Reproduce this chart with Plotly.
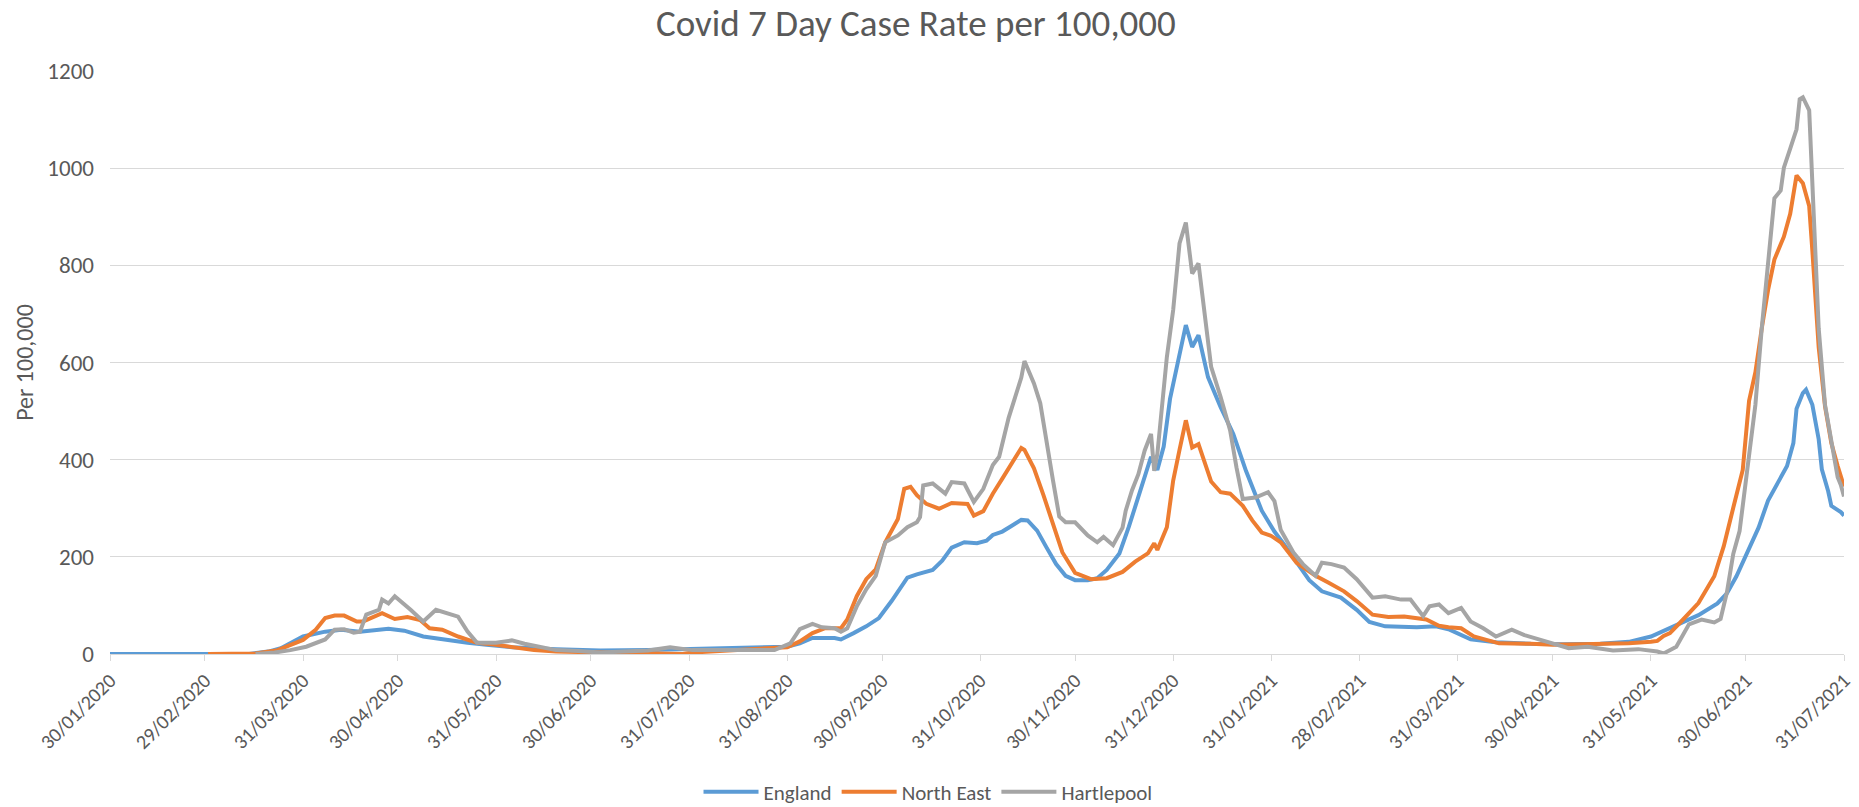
import plotly.graph_objects as go
import pandas as pd

# Values (7 day case rate per 100,000)
england_dates = [
    "2020-01-30", "2020-03-14", "2020-03-20", "2020-03-24", "2020-03-31", "2020-04-07",
    "2020-04-12", "2020-04-18", "2020-04-27", "2020-05-02", "2020-05-08", "2020-05-15",
    "2020-05-22", "2020-05-28", "2020-06-05", "2020-06-19", "2020-07-03", "2020-07-18",
    "2020-08-04", "2020-08-15", "2020-08-26", "2020-08-31", "2020-09-04", "2020-09-08",
    "2020-09-15", "2020-09-17", "2020-09-21", "2020-09-25", "2020-09-29", "2020-10-03",
    "2020-10-08", "2020-10-11", "2020-10-16", "2020-10-19", "2020-10-22", "2020-10-26",
    "2020-10-30", "2020-11-02", "2020-11-04", "2020-11-07", "2020-11-10", "2020-11-13",
    "2020-11-15", "2020-11-18", "2020-11-21", "2020-11-24", "2020-11-27", "2020-11-30",
    "2020-12-04", "2020-12-07", "2020-12-10", "2020-12-14", "2020-12-17", "2020-12-20",
    "2020-12-24", "2020-12-26", "2020-12-28", "2020-12-30", "2021-01-02", "2021-01-04",
    "2021-01-06", "2021-01-08", "2021-01-11", "2021-01-15", "2021-01-19", "2021-01-23",
    "2021-01-28", "2021-02-01", "2021-02-04", "2021-02-08", "2021-02-12", "2021-02-16",
    "2021-02-22", "2021-02-27", "2021-03-03", "2021-03-08", "2021-03-18", "2021-03-24",
    "2021-03-28", "2021-04-04", "2021-04-12", "2021-04-23", "2021-05-03", "2021-05-15",
    "2021-05-24", "2021-05-31", "2021-06-04", "2021-06-09", "2021-06-15", "2021-06-21",
    "2021-06-24", "2021-06-27", "2021-07-01", "2021-07-04", "2021-07-07", "2021-07-10",
    "2021-07-13", "2021-07-15", "2021-07-16", "2021-07-18", "2021-07-19", "2021-07-21",
    "2021-07-23", "2021-07-24", "2021-07-26", "2021-07-27", "2021-07-30", "2021-07-31",
]
england_values = [
    0, 0, 5, 12, 36, 46,
    50, 46, 52, 48, 36, 29,
    23, 19, 14, 10, 7, 8,
    10, 13, 13, 15, 22, 33,
    33, 30, 43, 57, 74, 109,
    157, 164, 173, 192, 219, 230,
    228, 233, 245, 252, 264, 276,
    275, 254, 219, 185, 161, 152,
    152, 156, 173, 207, 262, 324,
    406, 379, 427, 525, 618, 677,
    632, 656, 570, 508, 453, 377,
    295, 252, 226, 188, 152, 129,
    116, 91, 66, 57, 55, 57,
    51, 30, 24, 21, 20, 21,
    25, 36, 48, 64, 80, 104,
    125, 160, 215, 260, 316, 352,
    387, 434, 505, 537, 544, 513,
    442, 380, 335, 305, 292, 285,
]

north_east_dates = [
    "2020-03-01", "2020-03-16", "2020-03-23", "2020-03-31", "2020-04-04", "2020-04-07",
    "2020-04-10", "2020-04-13", "2020-04-17", "2020-04-19", "2020-04-25", "2020-04-29",
    "2020-05-03", "2020-05-07", "2020-05-10", "2020-05-14", "2020-05-19", "2020-05-25",
    "2020-05-31", "2020-06-05", "2020-06-12", "2020-06-19", "2020-07-03", "2020-07-17",
    "2020-07-29", "2020-08-01", "2020-08-15", "2020-08-27", "2020-08-31", "2020-09-04",
    "2020-09-08", "2020-09-12", "2020-09-17", "2020-09-19", "2020-09-22", "2020-09-25",
    "2020-09-28", "2020-10-01", "2020-10-05", "2020-10-07", "2020-10-09", "2020-10-11",
    "2020-10-14", "2020-10-18", "2020-10-22", "2020-10-27", "2020-10-29", "2020-11-01",
    "2020-11-04", "2020-11-07", "2020-11-10", "2020-11-13", "2020-11-14", "2020-11-17",
    "2020-11-20", "2020-11-23", "2020-11-26", "2020-11-30", "2020-12-05", "2020-12-10",
    "2020-12-15", "2020-12-19", "2020-12-23", "2020-12-25", "2020-12-26", "2020-12-29",
    "2020-12-31", "2021-01-02", "2021-01-04", "2021-01-06", "2021-01-08", "2021-01-12",
    "2021-01-15", "2021-01-18", "2021-01-22", "2021-01-25", "2021-01-28", "2021-01-31",
    "2021-02-03", "2021-02-08", "2021-02-14", "2021-02-18", "2021-02-23", "2021-02-27",
    "2021-03-04", "2021-03-09", "2021-03-14", "2021-03-21", "2021-03-25", "2021-03-28",
    "2021-04-01", "2021-04-05", "2021-04-08", "2021-04-13", "2021-04-23", "2021-04-30",
    "2021-05-09", "2021-05-24", "2021-05-31", "2021-06-02", "2021-06-04", "2021-06-06",
    "2021-06-10", "2021-06-15", "2021-06-20", "2021-06-23", "2021-06-26", "2021-06-29",
    "2021-07-01", "2021-07-03", "2021-07-05", "2021-07-07", "2021-07-09", "2021-07-12",
    "2021-07-14", "2021-07-16", "2021-07-18", "2021-07-20", "2021-07-21", "2021-07-22",
    "2021-07-23", "2021-07-25", "2021-07-27", "2021-07-29", "2021-07-31",
]
north_east_values = [
    0, 1, 8, 29, 50, 74,
    79, 79, 67, 67, 84, 72,
    76, 70, 53, 50, 36, 23,
    19, 14, 8, 5, 3, 3,
    0, 3, 8, 11, 14, 26,
    43, 53, 53, 71, 119, 154,
    174, 230, 278, 340, 344, 327,
    309, 299, 311, 309, 285, 294,
    330, 361, 392, 424, 420, 382,
    327, 271, 209, 167, 154, 156,
    169, 190, 207, 228, 214, 261,
    357, 420, 481, 425, 432, 355,
    333, 330, 305, 275, 250, 243,
    230, 188, 161, 147, 129, 109,
    81, 76, 77, 71, 58, 55,
    53, 36, 30, 22, 21, 19,
    20, 22, 25, 27, 37, 43,
    70, 105, 160, 222, 301, 379,
    521, 580, 670, 749, 812, 859,
    906, 985, 969, 922, 830, 720,
    631, 510, 434, 387, 345,
]

hartlepool_dates = [
    "2020-03-16", "2020-03-22", "2020-03-27", "2020-04-01", "2020-04-07", "2020-04-10",
    "2020-04-13", "2020-04-16", "2020-04-18", "2020-04-20", "2020-04-24", "2020-04-25",
    "2020-04-27", "2020-04-29", "2020-05-04", "2020-05-08", "2020-05-12", "2020-05-16",
    "2020-05-19", "2020-05-22", "2020-05-25", "2020-05-31", "2020-06-05", "2020-06-09",
    "2020-06-14", "2020-06-19", "2020-06-26", "2020-07-03", "2020-07-18", "2020-07-25",
    "2020-08-01", "2020-08-15", "2020-08-27", "2020-09-01", "2020-09-04", "2020-09-08",
    "2020-09-11", "2020-09-15", "2020-09-17", "2020-09-19", "2020-09-22", "2020-09-25",
    "2020-09-28", "2020-10-01", "2020-10-05", "2020-10-08", "2020-10-11", "2020-10-12",
    "2020-10-13", "2020-10-16", "2020-10-20", "2020-10-22", "2020-10-26", "2020-10-29",
    "2020-11-01", "2020-11-04", "2020-11-06", "2020-11-09", "2020-11-11", "2020-11-13",
    "2020-11-14", "2020-11-17", "2020-11-19", "2020-11-21", "2020-11-23", "2020-11-25",
    "2020-11-27", "2020-11-30", "2020-12-04", "2020-12-07", "2020-12-09", "2020-12-12",
    "2020-12-15", "2020-12-16", "2020-12-18", "2020-12-20", "2020-12-22", "2020-12-24",
    "2020-12-25", "2020-12-26", "2020-12-28", "2020-12-29", "2020-12-31", "2021-01-01",
    "2021-01-02", "2021-01-04", "2021-01-06", "2021-01-08", "2021-01-10", "2021-01-12",
    "2021-01-15", "2021-01-18", "2021-01-20", "2021-01-22", "2021-01-26", "2021-01-30",
    "2021-02-01", "2021-02-03", "2021-02-07", "2021-02-10", "2021-02-14", "2021-02-16",
    "2021-02-19", "2021-02-23", "2021-02-27", "2021-03-04", "2021-03-08", "2021-03-13",
    "2021-03-16", "2021-03-20", "2021-03-22", "2021-03-25", "2021-03-28", "2021-04-01",
    "2021-04-04", "2021-04-08", "2021-04-12", "2021-04-17", "2021-04-21", "2021-04-26",
    "2021-04-30", "2021-05-05", "2021-05-11", "2021-05-19", "2021-05-27", "2021-06-02",
    "2021-06-04", "2021-06-08", "2021-06-12", "2021-06-16", "2021-06-20", "2021-06-22",
    "2021-06-24", "2021-06-26", "2021-06-28", "2021-06-30", "2021-07-03", "2021-07-05",
    "2021-07-07", "2021-07-09", "2021-07-11", "2021-07-12", "2021-07-14", "2021-07-16",
    "2021-07-17", "2021-07-18", "2021-07-20", "2021-07-21", "2021-07-22", "2021-07-23",
    "2021-07-25", "2021-07-27", "2021-07-29", "2021-07-30", "2021-07-31",
]
hartlepool_values = [
    0, 3, 8, 15, 30, 50,
    51, 44, 46, 81, 91, 112,
    104, 119, 91, 67, 91, 84,
    77, 46, 23, 23, 28, 21,
    14, 8, 6, 3, 7, 14,
    8, 8, 8, 22, 51, 62,
    55, 53, 46, 53, 98, 133,
    161, 230, 244, 261, 271, 282,
    347, 351, 330, 354, 351, 313,
    340, 389, 406, 486, 527, 569,
    603, 557, 516, 433, 358, 283,
    271, 271, 244, 230, 241, 224,
    260, 295, 337, 370, 419, 453,
    377, 412, 536, 611, 708, 777,
    845, 888, 783, 804, 701, 591,
    529, 460, 384, 319, 322, 333,
    315, 255, 209, 185, 161, 188,
    185, 178, 154, 116, 119, 112,
    112, 78, 98, 102, 84, 95,
    67, 53, 36, 50, 39, 29,
    21, 12, 15, 7, 10, 5,
    1, 15, 61, 71, 65, 72,
    127, 206, 253, 356, 513, 670,
    812, 938, 954, 1001, 1040, 1080,
    1142, 1146, 1119, 980, 800, 670,
    513, 434, 364, 348, 324,
]

tick_labels = [
    "30/01/2020", "29/02/2020", "31/03/2020", "30/04/2020", "31/05/2020", "30/06/2020",
    "31/07/2020", "31/08/2020", "30/09/2020", "31/10/2020", "30/11/2020", "31/12/2020",
    "31/01/2021", "28/02/2021", "31/03/2021", "30/04/2021", "31/05/2021", "30/06/2021",
    "31/07/2021",
]

series_names = ["England", "North East", "Hartlepool"]
series_colors = ["#5B9BD5", "#ED7D31", "#A5A5A5"]

FONT = "Calibri, Carlito, Lato, sans-serif"
TEXT_COLOR = "#595959"
GRID_COLOR = "#D9D9D9"


def create_case_rate_chart():
    """
    Create the Covid 7 day case rate line chart

    Returns:
        go.Figure: Plotly figure for the case rate chart
    """
    tick_dates = pd.to_datetime(tick_labels, format="%d/%m/%Y")

    fig = go.Figure()

    # One line per area, drawn in legend order so Hartlepool sits on top
    all_series = [
        (england_dates, england_values),
        (north_east_dates, north_east_values),
        (hartlepool_dates, hartlepool_values),
    ]
    for (dates, values), name, color in zip(all_series, series_names, series_colors):
        fig.add_trace(go.Scatter(
            x=pd.to_datetime(dates),
            y=values,
            mode="lines",
            name=name,
            line=dict(color=color, width=4)
        ))

    fig.update_layout(
        width=1859,
        height=807,
        paper_bgcolor="white",
        plot_bgcolor="white",
        font=dict(family=FONT, size=20, color=TEXT_COLOR),
        title=dict(
            text="Covid 7 Day Case Rate per 100,000",
            x=0.4927,
            xanchor="center",
            xref="container",
            y=0.9715,
            yanchor="middle",
            yref="container",
            font=dict(family=FONT, size=37, color=TEXT_COLOR)
        ),
        legend=dict(
            orientation="h",
            x=0.4992,
            xanchor="center",
            xref="container",
            y=0.0186,
            yanchor="middle",
            yref="container",
            font=dict(family=FONT, size=21, color=TEXT_COLOR),
            itemwidth=55
        ),
        margin=dict(l=110, r=15, t=71, b=153),
        hovermode="x unified"
    )

    fig.update_xaxes(
        range=[tick_dates[0], tick_dates[-1]],
        tickmode="array",
        tickvals=tick_dates,
        ticktext=tick_labels,
        tickangle=-45,
        ticks="outside",
        ticklen=6,
        tickcolor=GRID_COLOR,
        showgrid=False,
        showline=True,
        linecolor=GRID_COLOR,
        linewidth=1,
        automargin=False,
        tickfont=dict(family=FONT, size=20, color=TEXT_COLOR)
    )

    fig.update_yaxes(
        range=[0, 1200],
        dtick=200,
        showgrid=True,
        gridcolor=GRID_COLOR,
        gridwidth=1,
        zeroline=False,
        showline=False,
        ticks="",
        ticklabelstandoff=15,
        automargin=False,
        tickfont=dict(family=FONT, size=23, color=TEXT_COLOR),
        title=dict(
            text="Per 100,000",
            standoff=6,
            font=dict(family=FONT, size=24, color=TEXT_COLOR)
        )
    )

    return fig


fig = create_case_rate_chart()
# Drop the default page margin so the figure fills the window exactly,
# and hide the mode bar
fig.write_html(
    "out.html",
    config={"displayModeBar": False},
    post_script="document.body.style.margin = '0';"
)
